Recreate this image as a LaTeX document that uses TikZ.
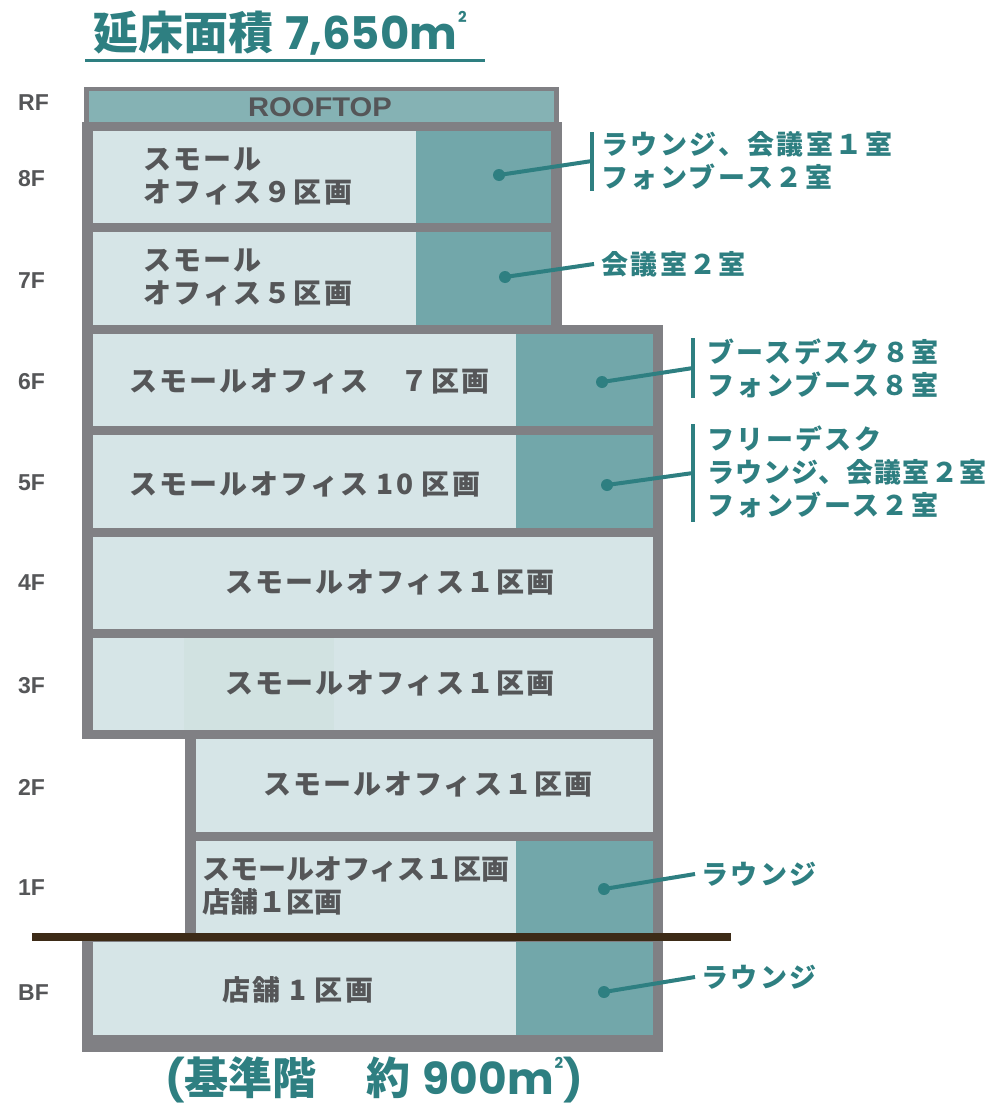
\documentclass[tikz,border=0pt]{standalone}
\usepackage{fontspec}
\setmainfont{Noto Sans CJK JP}
\newfontfamily\latinb{Liberation Sans}
\newfontfamily\geo{Poppins}
\definecolor{framegray}{HTML}{808084}
\definecolor{roomfill}{HTML}{D6E5E7}
\definecolor{roomshade}{HTML}{D1E2E1}
\definecolor{lounge}{HTML}{72A7AA}
\definecolor{roofteal}{HTML}{85B2B4}
\definecolor{txtgray}{HTML}{555658}
\definecolor{tealtxt}{HTML}{2E7F81}
\definecolor{ground}{HTML}{3D2B17}
\newcommand{\sqm}[1]{m\kern0.02em\raisebox{0.6em}{\fontsize{#1}{#1}\selectfont 2}}
\tikzset{
  flr/.style={font=\latinb\bfseries\fontsize{23}{23}\selectfont, text=txtgray, inner sep=0, anchor=west},
  room/.style={font=\bfseries\fontsize{28}{33}\selectfont\addfontfeatures{LetterSpace=8}, text=txtgray, inner sep=0, align=left},
  roomtight/.style={font=\bfseries\fontsize{28}{33}\selectfont, text=txtgray, inner sep=0, align=left},
  note/.style={font=\bfseries\fontsize{27}{33}\selectfont\addfontfeatures{LetterSpace=9}, text=tealtxt, inner sep=0, align=left, anchor=west},
  dotn/.style={circle, fill=tealtxt, inner sep=0, minimum size=12},
  conn/.style={draw=tealtxt, line width=4},
  bar/.style={draw=tealtxt, line width=4},
  big/.style={font=\bfseries\fontsize{45}{50}\selectfont, text=tealtxt, inner sep=0, anchor=west}
}
\begin{document}
\begin{tikzpicture}[x=1pt,y=-1pt]
\useasboundingbox (0,0) rectangle (995,1108);
% title
\node[big] (title) at (93,33) {延床面積\hspace{12pt}{\geo\bfseries\fontsize{45}{50}\selectfont 7,650\sqm{15}}};
\draw[tealtxt, line width=3] (85,61) -- (485,61);
% building frame
\fill[framegray] (84,87) rectangle (559,124);
\fill[roofteal] (89,91) rectangle (554,124);
\fill[framegray] (82,122) rectangle (562,334);
\fill[framegray] (82,325) rectangle (663,739);
\fill[framegray] (185,730) rectangle (663,941);
\fill[framegray] (82,933) rectangle (663,1052);
% rooms
\fill[roomfill] (93,131) rectangle (416,223);
\fill[lounge] (416,131) rectangle (551,223);
\fill[roomfill] (93,232) rectangle (416,325);
\fill[lounge] (416,232) rectangle (551,325);
\fill[roomfill] (93,334) rectangle (516,426);
\fill[lounge] (516,334) rectangle (653,426);
\fill[roomfill] (93,435) rectangle (516,528);
\fill[lounge] (516,435) rectangle (653,528);
\fill[roomfill] (93,537) rectangle (653,629);
\fill[roomfill] (93,638) rectangle (653,730);
\fill[roomshade] (184,638) rectangle (334,730);
\fill[roomfill] (196,739) rectangle (653,832);
\fill[roomfill] (196,841) rectangle (516,933);
\fill[lounge] (516,841) rectangle (653,933);
\fill[roomfill] (93,942) rectangle (516,1035);
\fill[lounge] (516,942) rectangle (653,1035);
% ground line
\draw[ground, line width=8] (32,937) -- (731,937);
% rooftop label
\node[font=\latinb\bfseries\fontsize{27}{27}\selectfont, text=txtgray, inner sep=0] (roof) at (320,107) {\scalebox{1.08}[1]{ROOFTOP}};
% floor labels
\node[flr] (lRF) at (18,103) {RF};
\node[flr] (l8) at (18,179) {8F};
\node[flr] (l7) at (18,281) {7F};
\node[flr] (l6) at (18,382) {6F};
\node[flr] (l5) at (18,483) {5F};
\node[flr] (l4) at (18,583) {4F};
\node[flr] (l3) at (18,686) {3F};
\node[flr] (l2) at (18,787) {2F};
\node[flr] (l1) at (18,888) {1F};
\node[flr] (lB) at (18,993) {BF};
% room texts
\node[room, anchor=west] (r8) at (143,177) {スモール\\オフィス９区画};
\node[room, anchor=west] (r7) at (143,278) {スモール\\オフィス５区画};
\node[room, anchor=west] (r6) at (129,381) {スモールオフィス　７区画};
\node[room, anchor=west] (r5) at (129,484) {スモールオフィス 10 区画};
\node[room] (r4) at (390,582) {スモールオフィス１区画};
\node[room] (r3) at (390,683) {スモールオフィス１区画};
\node[room] (r2) at (428,784) {スモールオフィス１区画};
\node[roomtight, anchor=west] (r1) at (202,886) {スモールオフィス１区画\\店舗１区画};
\node[room, anchor=west] (rB) at (222,990) {店舗 1 区画};
% dots
\node[dotn] (d8) at (499,175) {};
\node[dotn] (d7) at (505,277) {};
\node[dotn] (d6) at (602,382) {};
\node[dotn] (d5) at (607,485) {};
\node[dotn] (d1) at (604,889) {};
\node[dotn] (dB) at (604,992) {};
% connector ends
\coordinate (e8) at (592,161);
\coordinate (e7) at (594,264);
\coordinate (e6) at (693,368);
\coordinate (e5) at (693,473);
\coordinate (e1) at (695,874);
\coordinate (eB) at (695,977);
\coordinate (b8t) at (592,132); \coordinate (b8b) at (592,191);
\coordinate (b6t) at (693,338); \coordinate (b6b) at (693,398);
\coordinate (b5t) at (693,424); \coordinate (b5b) at (693,522);
\draw[conn] (d8.center) -- (e8);
\draw[conn] (d7.center) -- (e7);
\draw[conn] (d6.center) -- (e6);
\draw[conn] (d5.center) -- (e5);
\draw[conn] (d1.center) -- (e1);
\draw[conn] (dB.center) -- (eB);
\draw[bar] (b8t) -- (b8b);
\draw[bar] (b6t) -- (b6b);
\draw[bar] (b5t) -- (b5b);
% notes
\node[note] (n8) at (601,161) {ラウンジ、会議室１室\\フォンブース２室};
\node[note] (n7) at (601,264) {会議室２室};
\node[note] (n6) at (707,368) {ブースデスク８室\\フォンブース８室};
\node[note] (n5) at (707,472) {フリーデスク\\{\addfontfeatures{LetterSpace=4}ラウンジ、会議室２室}\\フォンブース２室};
\node[note] (n1) at (701,874) {ラウンジ};
\node[note] (nB) at (701,977) {ラウンジ};
% bottom caption
\node[big, font=\bfseries\fontsize{44}{50}\selectfont] (cap) at (165,1080) {{\geo\bfseries\fontsize{41}{46}\selectfont (}基準階\hspace{50pt}約\hspace{12pt}{\geo\bfseries 900\sqm{15}\fontsize{41}{46}\selectfont )}};
\end{tikzpicture}
\end{document}
